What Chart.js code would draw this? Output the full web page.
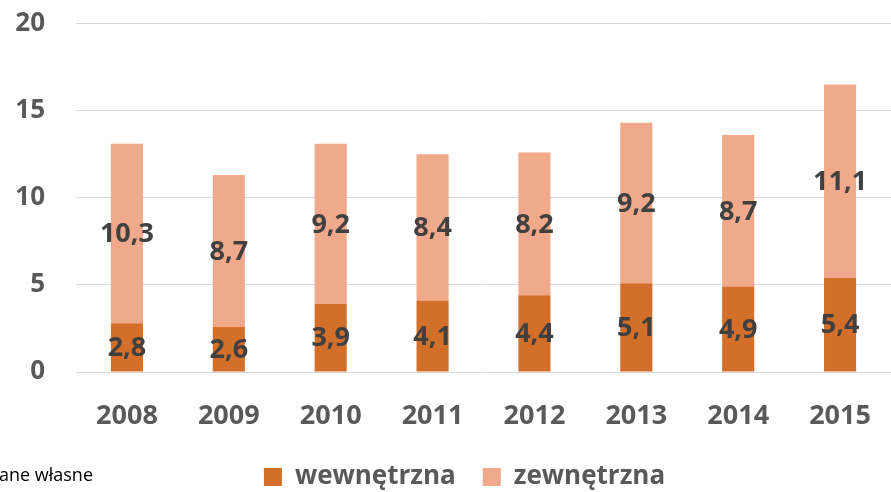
<!DOCTYPE html>
<html>
<head>
<meta charset="utf-8">
<script src="https://cdn.jsdelivr.net/npm/chart.js@4/dist/chart.umd.min.js"></script>
<style>
  html, body { margin: 0; padding: 0; background: #fff; }
  #wrap { width: 891px; height: 492px; }
</style>
</head>
<body>
<div id="wrap"><canvas id="chart" width="891" height="492"></canvas></div>
<script>
const years = ['2008', '2009', '2010', '2011', '2012', '2013', '2014', '2015']
const wewnetrzna = [2.8, 2.6, 3.9, 4.1, 4.4, 5.1, 4.9, 5.4]
const zewnetrzna = [10.3, 8.7, 9.2, 8.4, 8.2, 9.2, 8.7, 11.1]
const yTicks = [0, 5, 10, 15, 20]
const sourceNote = 'Źródło: dane własne'

const FONT = "'Open Sans', 'DejaVu Sans', sans-serif"

// labels in the middle of every segment, like Excel data labels
const segmentLabels = {
  id: 'segmentLabels',
  afterDatasetsDraw(chart) {
    const ctx = chart.ctx
    ctx.save()
    ctx.font = `bold 27px ${FONT}`
    ctx.fillStyle = '#404040'
    ctx.textAlign = 'center'
    ctx.textBaseline = 'middle'
    chart.data.datasets.forEach((ds, i) => {
      chart.getDatasetMeta(i).data.forEach((bar, j) => {
        const p = bar.getProps(['x', 'y', 'base'], true)
        ctx.fillText(ds.data[j].toFixed(1).replace('.', ','), p.x, (p.y + p.base) / 2 + 1)
      })
    })
    ctx.restore()
  }
}

// source note bottom-left, cut by the picture edge
const footNote = {
  id: 'footNote',
  afterDraw(chart) {
    const ctx = chart.ctx
    ctx.save()
    ctx.font = `18px ${FONT}`
    ctx.fillStyle = '#000'
    ctx.textAlign = 'right'
    ctx.textBaseline = 'middle'
    ctx.fillText(sourceNote, 93, 476)
    ctx.restore()
  }
}

// legend sits a bit right of the canvas middle and a bit lower
const legendShift = {
  id: 'legendShift',
  afterLayout(chart) {
    const lg = chart.legend
    lg.left += 19
    lg.right += 19
    lg.top += 8
    lg.bottom += 8
  }
}

const data = {
  labels: years,
  datasets: [
    {
      label: 'wewnętrzna',
      data: wewnetrzna,
      backgroundColor: '#D46F2A',
      barPercentage: 0.5,
      categoryPercentage: 0.63
    },
    {
      label: 'zewnętrzna',
      data: zewnetrzna,
      backgroundColor: '#F1A98B',
      barPercentage: 0.5,
      categoryPercentage: 0.63
    }
  ]
}

const config = {
  type: 'bar',
  data: data,
  options: {
    responsive: false,
    maintainAspectRatio: false,
    animation: false,
    layout: { padding: { top: 23.5, right: 0, left: 0, bottom: 0 } },
    plugins: {
      tooltip: { enabled: false },
      legend: {
        position: 'bottom',
        labels: {
          boxWidth: 18,
          boxHeight: 18,
          padding: 27,
          color: '#595959',
          font: { family: FONT, size: 26, weight: 'bold' }
        }
      }
    },
    scales: {
      x: {
        stacked: true,
        grid: { display: false, drawTicks: false },
        border: { display: false },
        afterFit(axis) {
          axis.paddingLeft = 0
          axis.paddingRight = 0
          axis.height = 57
        },
        ticks: {
          color: '#595959',
          padding: 28,
          font: { family: FONT, size: 27, weight: 'bold' }
        }
      },
      y: {
        stacked: true,
        min: 0,
        max: 20,
        afterBuildTicks(axis) { axis.ticks = yTicks.map(v => ({ value: v })) },
        afterFit(axis) {
          axis.width = 76
          axis.paddingTop = 0
          axis.paddingBottom = 0
        },
        grid: { color: '#D9D9D9', lineWidth: 1, drawTicks: false },
        border: { display: false },
        ticks: {
          color: '#595959',
          padding: 31,
          font: { family: FONT, size: 26, weight: 'bold' }
        }
      }
    }
  },
  plugins: [segmentLabels, footNote, legendShift]
}

new Chart(document.getElementById('chart'), config)
</script>
</body>
</html>
